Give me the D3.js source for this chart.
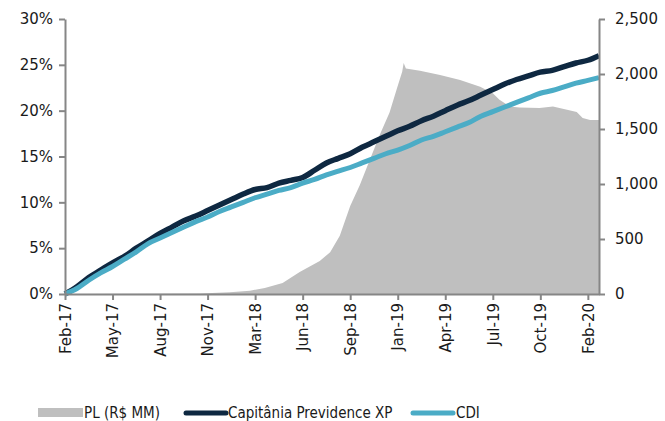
<!DOCTYPE html>
<html><head><meta charset="utf-8">
<script src="https://cdnjs.cloudflare.com/ajax/libs/d3/7.8.5/d3.min.js"></script>
<style>
html,body{margin:0;padding:0;background:#fff;}
svg text{font-family:"DejaVu Sans",Verdana,sans-serif;}
</style></head>
<body><svg id="c" width="665" height="421"></svg>
<script>
// ---- data (x = business-day index since Feb-17) ----
const tickLabels = ["Feb-17","May-17","Aug-17","Nov-17","Mar-18","Jun-18","Sep-18","Jan-19","Apr-19","Jul-19","Oct-19","Feb-20"];
const tickObs = [0,64,128,192,256,320,384,448,512,576,640,704];

const lineObs = [0,16,32,48,64,80,96,112,128,144,160,176,192,208,224,240,256,272,288,304,320,336,352,368,384,400,416,432,448,464,480,496,512,528,544,560,576,592,608,624,640,656,672,688,704,719];
const capitania = [0,0.8,1.8,2.6,3.4,4.1,5.0,5.8,6.6,7.3,8.0,8.5,9.1,9.7,10.3,10.9,11.4,11.6,12.1,12.4,12.7,13.5,14.3,14.8,15.3,16.0,16.6,17.2,17.8,18.3,18.9,19.4,20.0,20.6,21.1,21.7,22.3,22.9,23.4,23.8,24.2,24.4,24.8,25.2,25.5,26.0];
const cdi = [0,0.6,1.5,2.3,3.0,3.8,4.6,5.5,6.1,6.7,7.3,7.9,8.4,9.0,9.5,10.0,10.5,10.9,11.3,11.6,12.1,12.5,13.0,13.4,13.8,14.3,14.8,15.3,15.7,16.2,16.8,17.2,17.7,18.2,18.7,19.4,19.9,20.4,20.9,21.4,21.9,22.2,22.6,23.0,23.3,23.6];

const plObs = [0,182,222,249,269,293,316,343,357,370,384,397,411,424,437,447,454,456,459,478,505,532,559,576,585,599,612,639,657,676,689,697,707,719];
const plValues = [0,5,15,30,55,100,200,300,380,530,800,990,1230,1450,1650,1870,2020,2100,2050,2030,1990,1945,1885,1825,1765,1705,1695,1690,1705,1675,1655,1600,1582,1582];

const leftTicks = [0,5,10,15,20,25,30];
const rightTicks = [0,500,1000,1500,2000,2500];
const seriesNames = ["PL (R$ MM)","Capitânia Previdence XP","CDI"];
const colors = {pl:"#bfbfbf", cap:"#0e2841", cdi:"#4bacc6", axis:"#868686"};

// ---- layout ----
const L=65, R=599, T=19, B=294;
const svg = d3.select("#c");
const x = d3.scaleLinear().domain([0,719]).range([L,R]);
const yL = d3.scaleLinear().domain([0,30]).range([B,T]);
const yR = d3.scaleLinear().domain([0,2500]).range([B,T]);

// area
const plData = plObs.map((o,i)=>({o,v:plValues[i]}));
svg.append("path").datum(plData)
  .attr("fill",colors.pl)
  .attr("d",d3.area().x(d=>x(d.o)).y0(yR(0)).y1(d=>yR(d.v)));

// lines
const capData = lineObs.map((o,i)=>({o,v:capitania[i]}));
const cdiData = lineObs.map((o,i)=>({o,v:cdi[i]}));
const line = d3.line().curve(d3.curveMonotoneX).x(d=>x(d.o)).y(d=>yL(d.v));
svg.append("path").datum(capData).attr("fill","none").attr("stroke",colors.cap)
  .attr("stroke-width",5.5).attr("stroke-linejoin","round").attr("d",line);
svg.append("path").datum(cdiData).attr("fill","none").attr("stroke",colors.cdi)
  .attr("stroke-width",5).attr("stroke-linejoin","round").attr("d",line);

// axes
function styleAxis(g){
  g.select(".domain").attr("stroke",colors.axis).attr("stroke-width",2);
  g.selectAll(".tick line").attr("stroke",colors.axis).attr("stroke-width",2);
  g.selectAll("text").attr("fill","#1a1a1a").style("font-size","15px");
}
svg.append("g").attr("transform",`translate(${L},0)`)
  .call(d3.axisLeft(yL).tickValues(leftTicks).tickFormat(d=>d+"%").tickSize(6).tickSizeOuter(0).tickPadding(6))
  .call(styleAxis);
svg.append("g").attr("transform",`translate(${R},0)`)
  .call(d3.axisRight(yR).tickValues(rightTicks).tickFormat(d3.format(",")).tickSize(6).tickSizeOuter(0).tickPadding(10))
  .call(styleAxis);
const gx = svg.append("g").attr("transform",`translate(0,${B})`)
  .call(d3.axisBottom(x).tickValues(tickObs).tickFormat((d,i)=>tickLabels[i]).tickSize(6).tickSizeOuter(0))
  .call(styleAxis);
gx.selectAll("text").attr("transform","rotate(-90)").attr("text-anchor","end")
  .attr("x",-9).attr("y",0).attr("dy","0.35em");

// legend
const lg = svg.append("g").style("font-size","15px");
lg.append("rect").attr("x",38).attr("y",408).attr("width",45).attr("height",9).attr("fill",colors.pl);
lg.append("text").attr("x",84).attr("y",413).attr("dy","0.35em").text(seriesNames[0]).attr("fill","#1a1a1a");
lg.append("line").attr("x1",186).attr("x2",226).attr("y1",413).attr("y2",413).attr("stroke",colors.cap).attr("stroke-width",5).attr("stroke-linecap","round");
lg.append("text").attr("x",228).attr("y",413).attr("dy","0.35em").text(seriesNames[1]).attr("fill","#1a1a1a");
lg.append("line").attr("x1",413).attr("x2",453).attr("y1",413).attr("y2",413).attr("stroke",colors.cdi).attr("stroke-width",5).attr("stroke-linecap","round");
lg.append("text").attr("x",456).attr("y",413).attr("dy","0.35em").text(seriesNames[2]).attr("fill","#1a1a1a");
lg.selectAll("text").style("font-family","'DejaVu Sans Condensed','Liberation Sans Narrow','Liberation Sans',sans-serif");
</script></body></html>
